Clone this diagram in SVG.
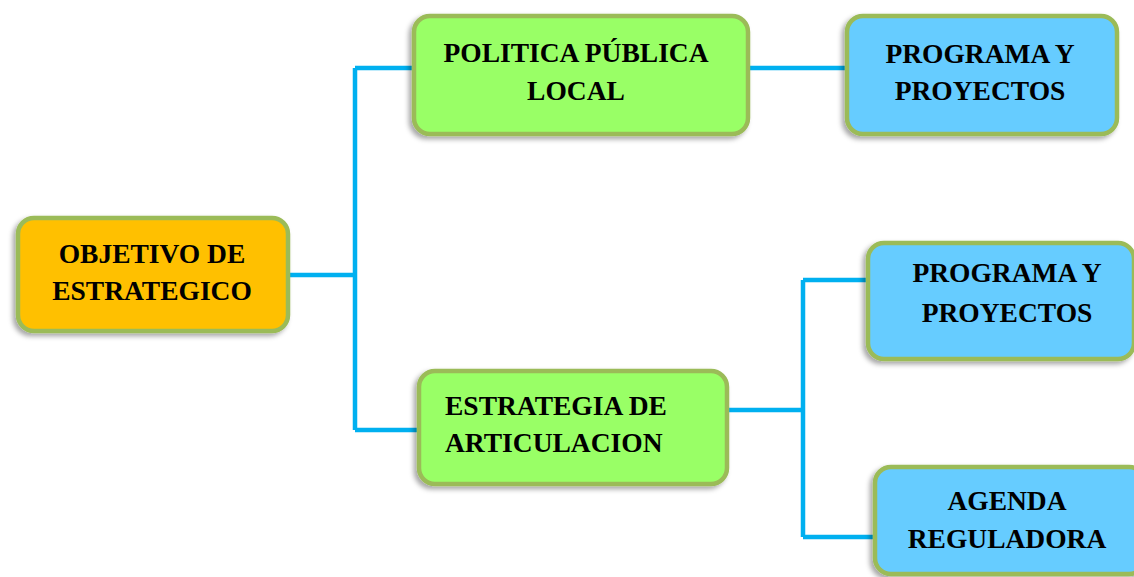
<svg xmlns="http://www.w3.org/2000/svg" width="1134" height="577" viewBox="0 0 1134 577">
<style>
.box{stroke:#9BBB59;stroke-width:4.5;filter:url(#sh)}
.o{fill:#FFC000}.g{fill:#99FF66}.b{fill:#66CCFF}
.t{font-family:"Liberation Serif","Times New Roman",serif;font-weight:bold;font-size:27.5px;fill:#000}
.c{text-anchor:middle}
.ln{stroke:#00B0F0;stroke-width:4.5;fill:none}
</style>
<defs>
<filter id="sh" x="-10%" y="-10%" width="120%" height="130%">
<feDropShadow dx="-3" dy="3" stdDeviation="2.5" flood-color="#000" flood-opacity="0.35"/>
</filter>
</defs>
<rect width="1134" height="577" fill="#fff"/>
<g id="connectors">
<path class="ln" d="M288 275H355M355 68V430M355 68H413M355 430H418"/>
<path class="ln" d="M748 68H847"/>
<path class="ln" d="M727 410H803M803 280V537M803 280H868M803 537H875"/>
</g>
<g id="n1">
<rect class="box o" x="18" y="218" width="270" height="113" rx="16"/>
<text class="t c" x="152" y="263">OBJETIVO DE</text>
<text class="t c" x="152" y="300">ESTRATEGICO</text>
</g>
<g id="n2">
<rect class="box g" x="414" y="16" width="334" height="118" rx="16"/>
<text class="t c" x="576" y="62">POLITICA PÚBLICA</text>
<text class="t c" x="576" y="100">LOCAL</text>
</g>
<g id="n3">
<rect class="box b" x="847" y="16" width="270" height="118" rx="16"/>
<text class="t c" x="980" y="63">PROGRAMA Y</text>
<text class="t c" x="980" y="100">PROYECTOS</text>
</g>
<g id="n4">
<rect class="box g" x="419" y="371" width="308" height="113" rx="16"/>
<text class="t" x="445" y="415">ESTRATEGIA DE</text>
<text class="t" x="445" y="452">ARTICULACION</text>
</g>
<g id="n5">
<rect class="box b" x="868" y="243" width="266" height="116" rx="16"/>
<text class="t c" x="1007" y="282">PROGRAMA Y</text>
<text class="t c" x="1007" y="322">PROYECTOS</text>
</g>
<g id="n6">
<rect class="box b" x="875" y="467" width="270" height="107" rx="16"/>
<text class="t c" x="1007" y="510">AGENDA</text>
<text class="t c" x="1007" y="548">REGULADORA</text>
</g>
</svg>
